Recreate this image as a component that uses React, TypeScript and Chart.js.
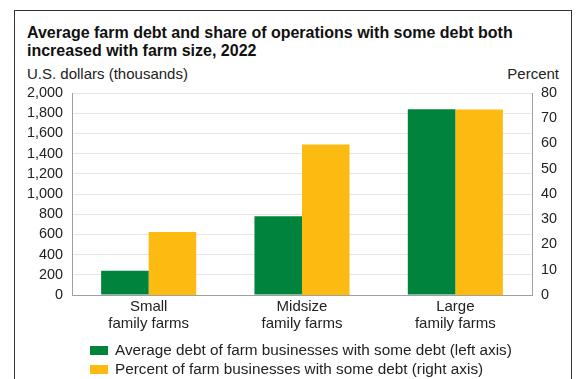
import React, { useEffect, useRef } from "react";
import { Chart, registerables } from "chart.js";

Chart.register(...registerables);

const categories: string[][] = [
  ["Small", "family farms"],
  ["Midsize", "family farms"],
  ["Large", "family farms"],
];
const avgDebt: number[] = [240, 780, 1840];
const pctWithDebt: number[] = [25, 59.6, 73.5];
const leftTicks: number[] = [0, 200, 400, 600, 800, 1000, 1200, 1400, 1600, 1800, 2000];
const rightTicks: number[] = [0, 10, 20, 30, 40, 50, 60, 70, 80];
const seriesNames: string[] = [
  "Average debt of farm businesses with some debt (left axis)",
  "Percent of farm businesses with some debt (right axis)",
];
const title = "Average farm debt and share of operations with some debt both increased with farm size, 2022";

const GREEN = "#00843d";
const YELLOW = "#fdbb12";
const FONT = "'Liberation Sans', Arial, Helvetica, sans-serif";

export default function App() {
  const ref = useRef<HTMLCanvasElement | null>(null);

  useEffect(() => {
    document.body.style.margin = "0";
    const ctx = ref.current!;
    const chart = new Chart(ctx, {
      type: "bar",
      data: {
        labels: categories,
        datasets: [
          {
            label: seriesNames[0],
            data: avgDebt,
            backgroundColor: GREEN,
            yAxisID: "y",
            categoryPercentage: 0.62,
            barPercentage: 1,
          },
          {
            label: seriesNames[1],
            data: pctWithDebt,
            backgroundColor: YELLOW,
            yAxisID: "y1",
            categoryPercentage: 0.62,
            barPercentage: 1,
          },
        ],
      },
      options: {
        animation: false,
        responsive: true,
        maintainAspectRatio: false,
        layout: { padding: { top: 93, left: 0, right: 0, bottom: 0 } },
        plugins: {
          legend: { display: false },
          title: { display: false },
          tooltip: { enabled: false },
        },
        scales: {
          x: {
            grid: { display: false, drawTicks: false },
            border: { display: true, color: "#a0a0a0", width: 1 },
            ticks: {
              color: "#222",
              font: { family: FONT, size: 15, lineHeight: 1.1 },
              padding: 4,
              autoSkip: false,
              maxRotation: 0,
            },
            afterFit: (s: any) => {
              s.height = 84;
            },
          },
          y: {
            position: "left",
            min: 0,
            max: 2000,
            afterBuildTicks: (s: any) => {
              s.ticks = leftTicks.map((v) => ({ value: v }));
            },
            grid: { color: "#e6e6e6", drawTicks: false },
            border: { display: true, color: "#a0a0a0", width: 1 },
            ticks: {
              color: "#222",
              font: { family: FONT, size: 14.4, lineHeight: 1 },
              padding: 9,
              autoSkip: false,
              callback: (v: any) => Number(v).toLocaleString("en-US"),
            },
            afterFit: (s: any) => {
              s.width = 72;
            },
          },
          y1: {
            position: "right",
            min: 0,
            max: 80,
            afterBuildTicks: (s: any) => {
              s.ticks = rightTicks.map((v) => ({ value: v }));
            },
            grid: { display: false, drawTicks: false },
            border: { display: true, color: "#a0a0a0", width: 1 },
            ticks: {
              color: "#222",
              font: { family: FONT, size: 14.4, lineHeight: 1 },
              padding: 9,
              autoSkip: false,
            },
            afterFit: (s: any) => {
              s.width = 46;
            },
          },
        },
      },
    });
    return () => chart.destroy();
  }, []);

  const textBase: React.CSSProperties = {
    position: "absolute",
    fontFamily: FONT,
    color: "#222",
    whiteSpace: "nowrap",
  };

  return (
    <div style={{ position: "relative", width: 578, height: 379, overflow: "hidden", background: "#fff" }}>
      <div
        style={{
          position: "absolute",
          left: 14,
          top: 10,
          width: 558,
          height: 400,
          border: "1px solid #333",
          boxSizing: "border-box",
        }}
      />
      <div
        style={{
          ...textBase,
          left: 27,
          top: 24,
          width: 520,
          whiteSpace: "normal",
          fontWeight: "bold",
          fontSize: 16,
          lineHeight: "18px",
          color: "#111",
        }}
      >
        {title}
      </div>
      <div style={{ ...textBase, left: 27, top: 65, fontSize: 15, lineHeight: "17px" }}>U.S. dollars (thousands)</div>
      <div style={{ ...textBase, right: 19, top: 65, fontSize: 15, lineHeight: "17px" }}>Percent</div>
      <div style={{ position: "absolute", left: 0, top: 0, width: 578, height: 379 }}>
        <canvas ref={ref} />
      </div>
      {seriesNames.map((name, i) => (
        <div
          key={name}
          style={{ ...textBase, left: 90, top: 341 + i * 19, fontSize: 15.3, lineHeight: "18px", display: "flex", alignItems: "center" }}
        >
          <span
            style={{
              display: "inline-block",
              width: 18,
              height: 9,
              background: i === 0 ? GREEN : YELLOW,
              marginRight: 7,
            }}
          />
          {name}
        </div>
      ))}
    </div>
  );
}
